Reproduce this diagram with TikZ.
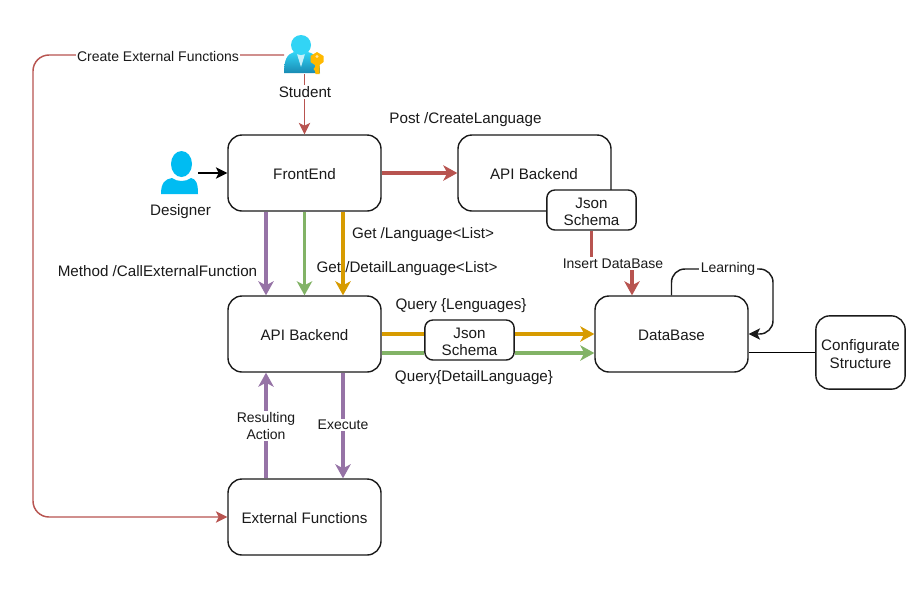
\documentclass[tikz,border=0pt]{standalone}
\usepackage{fontspec}
\setmainfont{Liberation Sans}
\usetikzlibrary{arrows.meta,calc}
\definecolor{cred}{HTML}{B85450}
\definecolor{cgreen}{HTML}{82B366}
\definecolor{corange}{HTML}{D79B00}
\definecolor{cpurple}{HTML}{9673A6}
\definecolor{ink}{HTML}{1A1A1A}
\definecolor{stutop}{HTML}{32D4F5}
\definecolor{stubot}{HTML}{198AB3}
\definecolor{desblue}{HTML}{00BCF2}
\definecolor{keyy}{HTML}{FFB900}
\definecolor{keyh}{HTML}{FFE6A0}
\definecolor{collar}{HTML}{C8F0FA}
\tikzset{
  box/.style={draw=ink,line width=1.05pt,rounded corners=10.5pt,fill=white,inner sep=0pt,align=center,font=\fontsize{11.4}{12.9}\selectfont,text=ink},
  wide/.style={box,minimum width=114.75pt,minimum height=57pt},
  small/.style={box,rounded corners=6pt,minimum width=67pt,minimum height=30pt},
  lab/.style={font=\fontsize{11.4}{12.9}\selectfont,text=ink,inner sep=1pt,align=center},
  wlab/.style={font=\fontsize{10.5}{12.6}\selectfont,text=ink,inner sep=1pt,align=center,fill=white},
  tip/.style={-{Stealth[length=10.5pt,width=11.5pt,inset=3pt]}},
  tipthin/.style={-{Stealth[length=8.5pt,width=8.5pt,inset=2pt]}},
  thick3/.style={line width=2.3pt},
  thin3/.style={line width=1.1pt},
}
\begin{document}
\begin{tikzpicture}[x=0.75pt,y=-0.75pt]
\useasboundingbox (0,0) rectangle (923,594);
\fill[white] (0,0) rectangle (923,594);

% boxes
\node[wide] (fe) at (304.5,173) {};
\node[lab] (fel) at (304.5,174.5) {FrontEnd};
\node[wide] (apit) at (534.5,173) {};
\node[lab] (apitl) at (534,174.5) {API Backend};
\node[small] (js1) at (591.5,210) {};
\node[lab] (js1l) at (591.5,211.5) {Json\\Schema};
\node[wide] (api) at (304.5,334) {};
\node[lab] (apil) at (304.5,335) {API Backend};
\node[small] (js2) at (469.5,340) {};
\node[lab] (js2l) at (469.5,341.5) {Json\\Schema};
\node[wide] (db) at (671.5,334) {};
\node[lab] (dbl) at (671.5,335) {DataBase};
\node[box,minimum width=67pt,minimum height=55pt] (cfg) at (860.5,352.5) {};
\node[lab] (cfgl) at (860.5,354) {Configurate\\Structure};
\node[wide] (ext) at (304.5,517) {};
\node[lab] (extl) at (304.5,518) {External Functions};

% student icon
\path[top color=stutop,bottom color=stubot]
  (284,73) .. controls (284,60) and (287,54) .. (294,52) -- (301,55) -- (308,52)
  .. controls (316,54) and (320,60) .. (320,73) -- cycle;
\fill[collar] (297,54) -- (305,54) -- (301,67) -- cycle;
\fill[stutop] (301,45) circle (10);
\coordinate (stuR) at (284,55);
\coordinate (stuB) at (304.5,74);
% key
\fill[keyy] (317,52) -- (323.5,56) -- (323.5,62) -- (319.5,65) -- (319.5,74) -- (315.5,74) -- (315,71) -- (313.5,69) -- (315,67) -- (315,65) -- (310.5,62) -- (310.5,56) -- cycle;
\fill[keyh] (317,56.5) circle (1.7);

% designer icon
\fill[desblue] (181.5,164) ellipse (10.5 and 13);
\fill[desblue] (161,194) .. controls (161,183) and (165,179) .. (172,178)
  .. controls (177,182) and (186,182) .. (191,178)
  .. controls (196,179) and (198,183) .. (198,194) -- cycle;
\coordinate (desR) at (198,173);

\node[lab] (desl) at (180.5,212) {Designer};

% plain labels
\node[lab] (l1) at (465.5,120) {Post /CreateLanguage};
\node[lab] (l2) at (423,235) {Get /Language<List>};
\node[lab] (l3) at (407,268.5) {Get /DetailLanguage<List>};
\node[lab] (l4) at (157.5,271.5) {Method /CallExternalFunction};
\node[lab] (l5) at (461,306) {Query \{Lenguages\}};
\node[lab] (l6) at (474,378) {Query\{DetailLanguage\}};

% connectors
\draw[black,thin3,tipthin] (desR) -- (fe.west |- desR);
\draw[cred,thin3,tipthin] (stuB) -- (fe.north);
\node[lab,fill=white] (stul) at (305,92) {Student};
\draw[cred,thin3,rounded corners=12pt,tipthin] (stuR) -- (33,55) -- (33,517) -- (ext.west);
\node[wlab] (cef) at (158,56) {Create External Functions};

\draw[cred,thick3,tip] (fe.east) -- (apit.west);
\draw[cpurple,thick3,tip] ($(fe.south)+(-38.5,0)$) -- ($(api.north)+(-38.5,0)$);
\draw[cgreen,thick3,tip] (fe.south) -- (api.north);
\draw[corange,thick3,tip] ($(fe.south)+(38.5,0)$) -- ($(api.north)+(38.5,0)$);

\coordinate (elbow) at (591.5,263);
\draw[cred,thick3,tip] (js1.south) -- (elbow) -| ($(db.north)+(-39.5,0)$);
\node[wlab] (ins) at (613,263.5) {Insert DataBase};

\draw[corange,thick3] (api.east) -- (js2.west |- api.east);
\draw[cgreen,thick3] ($(api.east)+(0,19)$) -- ($(js2.west)+(0,13)$);
\draw[corange,thick3,tip] (js2.east |- api.east) -- (db.west);
\draw[cgreen,thick3,tip] ($(js2.east)+(0,13)$) -- ($(db.west)+(0,19)$);

\draw[cpurple,thick3,tip] ($(ext.north)+(-38.5,0)$) -- ($(api.south)+(-38.5,0)$);
\draw[cpurple,thick3,tip] ($(api.south)+(38.5,0)$) -- ($(ext.north)+(38.5,0)$);
\node[wlab] (res) at (266,426) {Resulting\\Action};
\node[wlab] (exe) at (343,425) {Execute};

\coordinate (lrnA) at (671.5,269);
\coordinate (lrnB) at (773,269);
\coordinate (lrnC) at (773,334);
\draw[ink,thin3,rounded corners=10pt,tipthin] (db.north) -- (lrnA) -- (lrnB) -- (lrnC) -- (db.east);
\node[wlab] (lrn) at (728,269) {Learning};
\draw[black,thin3] (cfg.west -| db.east) -- (cfg.west);
\end{tikzpicture}
\end{document}
